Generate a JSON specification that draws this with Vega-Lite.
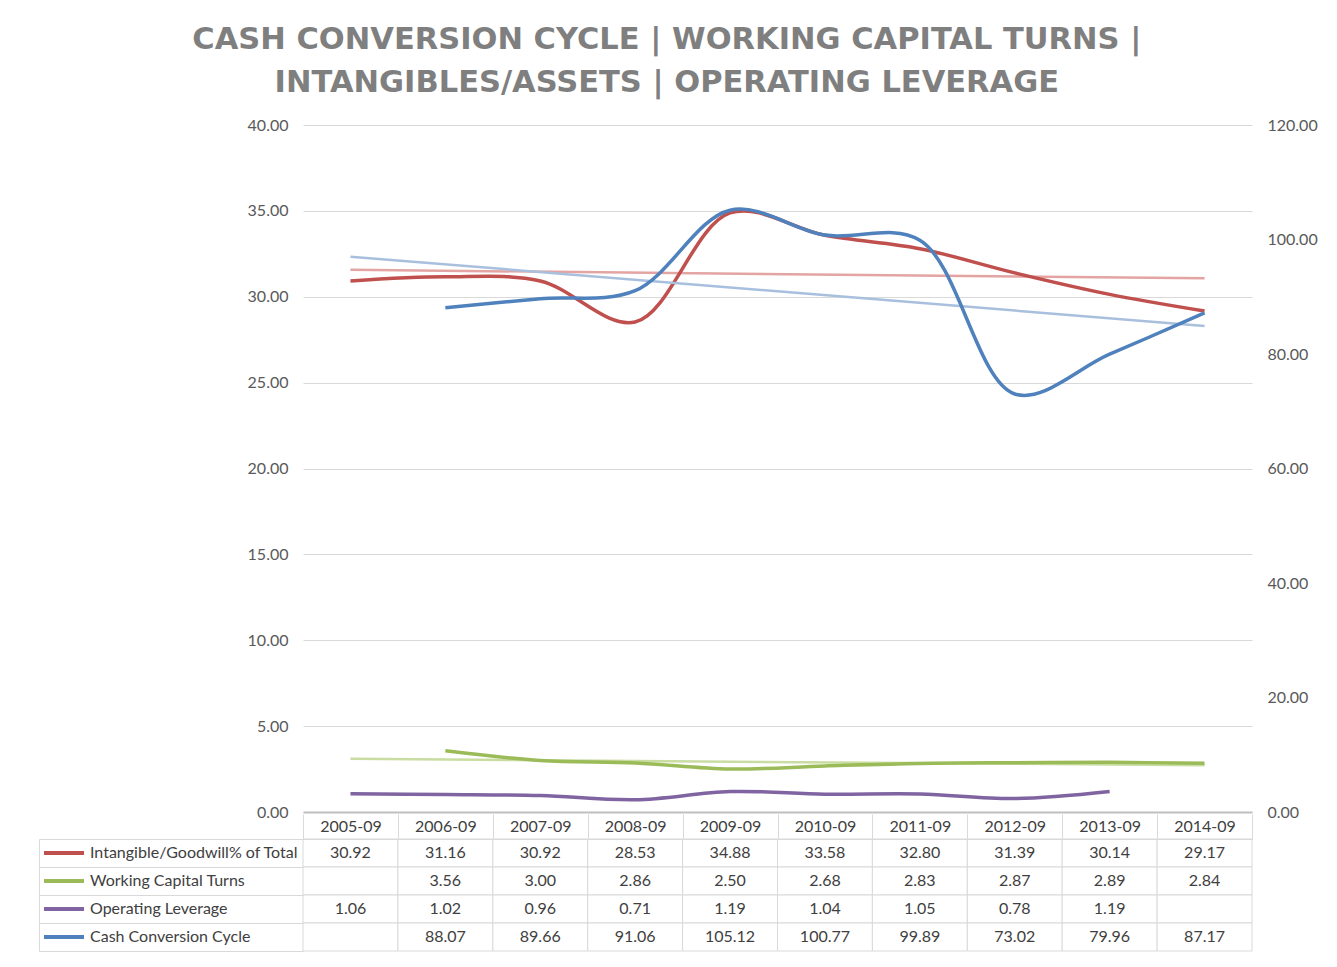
{
  "$schema": "https://vega.github.io/schema/vega-lite/v6.json",
  "background": "white",
  "padding": {"left": 38, "top": 24, "right": 10, "bottom": 10},
  "bounds": "flush",
  "title": {
    "text": ["CASH CONVERSION CYCLE | WORKING CAPITAL TURNS |", "INTANGIBLES/ASSETS | OPERATING LEVERAGE"],
    "font": "DejaVu Sans", "fontSize": 30.5, "fontWeight": "bold", "color": "#7f7f7f",
    "anchor": "middle", "lineHeight": 43, "offset": 19, "dx": -11
  },
  "datasets": {
    "vals": [
      {"series": "Intangible/Goodwill% of Total", "year": "2005-09", "value": 30.92},
      {"series": "Intangible/Goodwill% of Total", "year": "2006-09", "value": 31.16},
      {"series": "Intangible/Goodwill% of Total", "year": "2007-09", "value": 30.92},
      {"series": "Intangible/Goodwill% of Total", "year": "2008-09", "value": 28.53},
      {"series": "Intangible/Goodwill% of Total", "year": "2009-09", "value": 34.88},
      {"series": "Intangible/Goodwill% of Total", "year": "2010-09", "value": 33.58},
      {"series": "Intangible/Goodwill% of Total", "year": "2011-09", "value": 32.80},
      {"series": "Intangible/Goodwill% of Total", "year": "2012-09", "value": 31.39},
      {"series": "Intangible/Goodwill% of Total", "year": "2013-09", "value": 30.14},
      {"series": "Intangible/Goodwill% of Total", "year": "2014-09", "value": 29.17},
      {"series": "Working Capital Turns", "year": "2005-09", "value": null},
      {"series": "Working Capital Turns", "year": "2006-09", "value": 3.56},
      {"series": "Working Capital Turns", "year": "2007-09", "value": 3.00},
      {"series": "Working Capital Turns", "year": "2008-09", "value": 2.86},
      {"series": "Working Capital Turns", "year": "2009-09", "value": 2.50},
      {"series": "Working Capital Turns", "year": "2010-09", "value": 2.68},
      {"series": "Working Capital Turns", "year": "2011-09", "value": 2.83},
      {"series": "Working Capital Turns", "year": "2012-09", "value": 2.87},
      {"series": "Working Capital Turns", "year": "2013-09", "value": 2.89},
      {"series": "Working Capital Turns", "year": "2014-09", "value": 2.84},
      {"series": "Operating Leverage", "year": "2005-09", "value": 1.06},
      {"series": "Operating Leverage", "year": "2006-09", "value": 1.02},
      {"series": "Operating Leverage", "year": "2007-09", "value": 0.96},
      {"series": "Operating Leverage", "year": "2008-09", "value": 0.71},
      {"series": "Operating Leverage", "year": "2009-09", "value": 1.19},
      {"series": "Operating Leverage", "year": "2010-09", "value": 1.04},
      {"series": "Operating Leverage", "year": "2011-09", "value": 1.05},
      {"series": "Operating Leverage", "year": "2012-09", "value": 0.78},
      {"series": "Operating Leverage", "year": "2013-09", "value": 1.19},
      {"series": "Operating Leverage", "year": "2014-09", "value": null},
      {"series": "Cash Conversion Cycle", "year": "2005-09", "value": null},
      {"series": "Cash Conversion Cycle", "year": "2006-09", "value": 88.07},
      {"series": "Cash Conversion Cycle", "year": "2007-09", "value": 89.66},
      {"series": "Cash Conversion Cycle", "year": "2008-09", "value": 91.06},
      {"series": "Cash Conversion Cycle", "year": "2009-09", "value": 105.12},
      {"series": "Cash Conversion Cycle", "year": "2010-09", "value": 100.77},
      {"series": "Cash Conversion Cycle", "year": "2011-09", "value": 99.89},
      {"series": "Cash Conversion Cycle", "year": "2012-09", "value": 73.02},
      {"series": "Cash Conversion Cycle", "year": "2013-09", "value": 79.96},
      {"series": "Cash Conversion Cycle", "year": "2014-09", "value": 87.17}
    ],
    "trend": [
      {"series": "Intangible/Goodwill% of Total", "year": "2005-09", "value": 31.57},
      {"series": "Intangible/Goodwill% of Total", "year": "2014-09", "value": 31.07},
      {"series": "Working Capital Turns", "year": "2005-09", "value": 3.10},
      {"series": "Working Capital Turns", "year": "2014-09", "value": 2.72},
      {"series": "Cash Conversion Cycle", "year": "2005-09", "value": 97.0},
      {"series": "Cash Conversion Cycle", "year": "2014-09", "value": 84.9}
    ]
  },
  "spacing": 27,
  "vconcat": [
    {
      "width": 949,
      "height": 687,
      "encoding": {
        "x": {
          "field": "year", "type": "ordinal",
          "scale": {"domain": ["2005-09","2006-09","2007-09","2008-09","2009-09","2010-09","2011-09","2012-09","2013-09","2014-09"]},
          "axis": {"title": null, "labels": false, "ticks": false, "domain": true, "domainColor": "#bfbfbf", "domainWidth": 2, "grid": false}
        }
      },
      "layer": [
        {
          "encoding": {
            "y": {
              "field": "value", "type": "quantitative",
              "scale": {"domain": [0, 40], "nice": false, "zero": true},
              "axis": {"orient": "left", "title": null, "values": [0,5,10,15,20,25,30,35,40], "format": ".2f", "ticks": false, "domain": false, "grid": true, "gridColor": "#d9d9d9", "gridWidth": 1, "labelPadding": 15}
            }
          },
          "layer": [
            {
              "data": {"name": "trend"},
              "transform": [{"filter": "datum.series === 'Intangible/Goodwill% of Total'"}],
              "mark": {"type": "line", "strokeWidth": 2.5, "color": "#e3a4a3"}
            },
            {
              "data": {"name": "trend"},
              "transform": [{"filter": "datum.series === 'Working Capital Turns'"}],
              "mark": {"type": "line", "strokeWidth": 2.5, "color": "#c9dca2"}
            },
            {
              "data": {"name": "vals"},
              "transform": [{"filter": "datum.series !== 'Cash Conversion Cycle' && isValid(datum.value)"}],
              "mark": {"type": "line", "strokeWidth": 3.5, "interpolate": "catmull-rom"},
              "encoding": {
                "color": {
                  "field": "series", "type": "nominal",
                  "scale": {
                    "domain": ["Intangible/Goodwill% of Total", "Working Capital Turns", "Operating Leverage", "Cash Conversion Cycle"],
                    "range": ["#c0504d", "#9bbb59", "#8064a2", "#4f81bd"]
                  },
                  "legend": {
                    "orient": "none", "legendX": -261, "legendY": 714, "title": null,
                    "symbolType": "stroke", "symbolSize": 1600, "symbolStrokeWidth": 4,
                    "labelFont": "Lato", "labelFontSize": 16, "labelColor": "#404040", "labelOffset": 4,
                    "clipHeight": 28, "rowPadding": 0, "padding": 0, "offset": 0, "labelLimit": 400
                  }
                }
              }
            }
          ]
        },
        {
          "encoding": {
            "y": {
              "field": "value", "type": "quantitative",
              "scale": {"domain": [0, 120], "nice": false, "zero": true},
              "axis": {"orient": "right", "title": null, "values": [0,20,40,60,80,100,120], "format": ".2f", "ticks": false, "domain": false, "grid": false, "labelPadding": 15}
            }
          },
          "layer": [
            {
              "data": {"name": "trend"},
              "transform": [{"filter": "datum.series === 'Cash Conversion Cycle'"}],
              "mark": {"type": "line", "strokeWidth": 2.5, "color": "#a8bfdd"}
            },
            {
              "data": {"name": "vals"},
              "transform": [{"filter": "datum.series === 'Cash Conversion Cycle' && isValid(datum.value)"}],
              "mark": {"type": "line", "strokeWidth": 3.5, "interpolate": "catmull-rom"},
              "encoding": {
                "color": {"field": "series", "type": "nominal", "legend": null}
              }
            }
          ]
        }
      ],
      "resolve": {"scale": {"y": "independent"}}
    },
    {
      "width": 949,
      "height": 112,
      "encoding": {
        "x": {
          "field": "year", "type": "ordinal",
          "scale": {"domain": ["2005-09","2006-09","2007-09","2008-09","2009-09","2010-09","2011-09","2012-09","2013-09","2014-09"], "paddingInner": 0, "paddingOuter": 0},
          "axis": {
            "orient": "top", "title": null, "labelAngle": 0, "labelBaseline": "middle", "labelPadding": -12,
            "labelFont": "Lato", "labelFontSize": 16, "labelColor": "#404040", "labelOverlap": false,
            "domain": true, "domainColor": "#d9d9d9", "domainWidth": 1,
            "ticks": true, "tickBand": "extent", "tickSize": 25, "tickColor": "#d9d9d9", "tickWidth": 1, "grid": false
          }
        }
      },
      "layer": [
        {
          "data": {"name": "vals"},
          "mark": {"type": "rect", "fill": "white", "stroke": "#d9d9d9", "strokeWidth": 1},
          "encoding": {
            "y": {
              "field": "series", "type": "nominal",
              "scale": {"domain": ["Intangible/Goodwill% of Total", "Working Capital Turns", "Operating Leverage", "Cash Conversion Cycle"], "paddingInner": 0, "paddingOuter": 0},
              "axis": {
                "orient": "left", "title": null, "labels": false, "grid": false,
                "domain": true, "domainColor": "#d9d9d9", "domainWidth": 1, "offset": 264,
                "ticks": true, "tickBand": "extent", "tickSize": -264, "tickColor": "#d9d9d9", "tickWidth": 1
              }
            }
          }
        },
        {
          "data": {"name": "vals"},
          "transform": [{"filter": "isValid(datum.value)"}],
          "mark": {"type": "text", "font": "Lato", "fontSize": 16, "color": "#404040"},
          "encoding": {
            "y": {
              "field": "series", "type": "nominal",
              "axis": {
                "orient": "left", "title": null, "labels": false, "grid": false,
                "domain": true, "domainColor": "#d9d9d9", "domainWidth": 1, "offset": 264,
                "ticks": true, "tickBand": "extent", "tickSize": -264, "tickColor": "#d9d9d9", "tickWidth": 1
              }
            },
            "text": {"field": "value", "type": "quantitative", "format": ".2f"}
          }
        }
      ]
    }
  ],
  "config": {
    "view": {"stroke": null},
    "axis": {"labelFont": "Lato", "labelFontSize": 16, "labelColor": "#595959"}
  }
}
